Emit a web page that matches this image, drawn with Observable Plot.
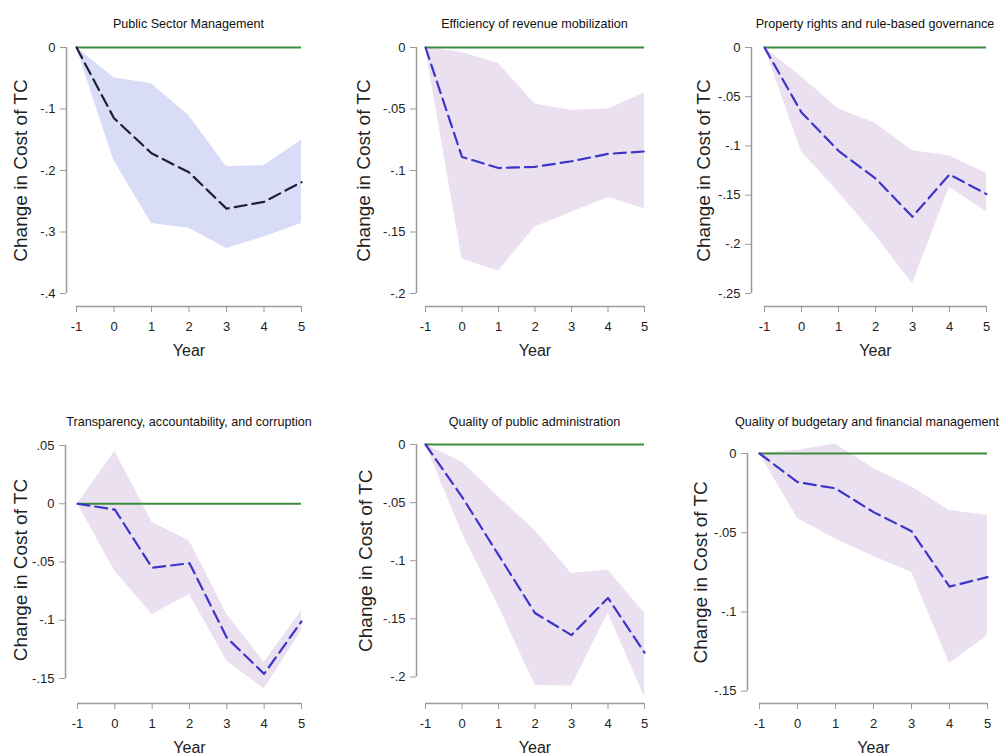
<!DOCTYPE html>
<html>
<head>
<meta charset="utf-8">
<script src="https://cdn.jsdelivr.net/npm/d3@7"></script>
<script src="https://cdn.jsdelivr.net/npm/@observablehq/plot@0.6"></script>
<style>
  body { margin: 0; background: #fff; }
  #wrap { position: relative; width: 1003px; height: 756px; background: #fff; overflow: hidden; font-family: "Liberation Sans", Arial, sans-serif; }
  .ptitle { position: absolute; width: 360px; text-align: center; font-size: 12.6px; line-height: 16px; color: #111; white-space: nowrap; }
  .pan { position: absolute; }
</style>
</head>
<body>
<div id="wrap"></div>
<script>
// ---- data ----
const years = [-1, 0, 1, 2, 3, 4, 5];
const yLabelText = "Change in Cost of TC";
const xLabelText = "Year";

const titles = [
  "Public Sector Management",
  "Efficiency of revenue mobilization",
  "Property rights and rule-based governance",
  "Transparency, accountability, and corruption",
  "Quality of public administration",
  "Quality of budgetary and financial management"
];

const psmMean  = [0, -0.115, -0.172, -0.203, -0.262, -0.251, -0.219];
const psmUpper = [0, -0.049, -0.059, -0.111, -0.194, -0.192, -0.151];
const psmLower = [0, -0.184, -0.286, -0.294, -0.327, -0.308, -0.286];
const psmTicks = [0, -0.1, -0.2, -0.3, -0.4];

const revMean  = [0, -0.089, -0.098, -0.097, -0.0925, -0.0865, -0.0845];
const revUpper = [0, -0.004, -0.013, -0.046, -0.051, -0.050, -0.037];
const revLower = [0, -0.172, -0.182, -0.146, -0.134, -0.122, -0.131];
const revTicks = [0, -0.05, -0.1, -0.15, -0.2];

const propMean  = [0, -0.066, -0.105, -0.133, -0.172, -0.129, -0.149];
const propUpper = [0, -0.030, -0.0625, -0.077, -0.105, -0.110, -0.128];
const propLower = [0, -0.106, -0.147, -0.191, -0.240, -0.142, -0.167];
const propTicks = [0, -0.05, -0.1, -0.15, -0.2, -0.25];

const transMean  = [0, -0.005, -0.055, -0.051, -0.115, -0.146, -0.101];
const transUpper = [0, 0.045, -0.016, -0.032, -0.095, -0.136, -0.092];
const transLower = [0, -0.058, -0.095, -0.078, -0.135, -0.159, -0.109];
const transTicks = [0.05, 0, -0.05, -0.1, -0.15];

const adminMean  = [0, -0.045, -0.095, -0.145, -0.164, -0.132, -0.179];
const adminUpper = [0, -0.015, -0.045, -0.074, -0.111, -0.108, -0.145];
const adminLower = [0, -0.076, -0.139, -0.207, -0.208, -0.145, -0.217];
const adminTicks = [0, -0.05, -0.1, -0.15, -0.2];

const budMean  = [0, -0.018, -0.022, -0.037, -0.049, -0.084, -0.078];
const budUpper = [0, 0.002, 0.006, -0.0095, -0.021, -0.036, -0.039];
const budLower = [0, -0.041, -0.054, -0.065, -0.075, -0.1325, -0.115];
const budTicks = [0, -0.05, -0.1, -0.15];

// ---- styles ----
const blueBand = "#d9dcf7", blueLine = "#1e1e3c";
const purpleBand = "#ebe0f0", purpleLine = "#3b35c9";
const greenLine = "#3c8c3c";
const axisGray = "#9a9a9a";

const panels = [
  {title: titles[0], mean: psmMean, upper: psmUpper, lower: psmLower, ticks: psmTicks, band: blueBand, line: blueLine},
  {title: titles[1], mean: revMean, upper: revUpper, lower: revLower, ticks: revTicks, band: purpleBand, line: purpleLine},
  {title: titles[2], mean: propMean, upper: propUpper, lower: propLower, ticks: propTicks, band: purpleBand, line: purpleLine},
  {title: titles[3], mean: transMean, upper: transUpper, lower: transLower, ticks: transTicks, band: purpleBand, line: purpleLine},
  {title: titles[4], mean: adminMean, upper: adminUpper, lower: adminLower, ticks: adminTicks, band: purpleBand, line: purpleLine},
  {title: titles[5], mean: budMean, upper: budUpper, lower: budLower, ticks: budTicks, band: purpleBand, line: purpleLine}
];

// layout (pixels)
const layouts = [
  {left: 0,   top: 35,  w: 335, h: 335, mL: 66, mR: 34, mT: 12, mB: 64, iL: 10, iB: 13,   labX: 46, labDy: 0, titleY: 24,  titleDx: 0},
  {left: 335, top: 35,  w: 335, h: 335, mL: 81, mR: 26, mT: 12, mB: 64, iL: 9,  iB: 13,   labX: 53, labDy: 0, titleY: 24,  titleDx: 0},
  {left: 668, top: 35,  w: 335, h: 335, mL: 83, mR: 17, mT: 12, mB: 64, iL: 13, iB: 13,   labX: 48, labDy: 0, titleY: 24,  titleDx: 0},
  {left: 0,   top: 435, w: 335, h: 321, mL: 65, mR: 34, mT: 10, mB: 53, iL: 12, iB: 25,   labX: 45, labDy: 8, titleY: 422, titleDx: 0},
  {left: 335, top: 435, w: 335, h: 321, mL: 81, mR: 26, mT: 9,  mB: 53, iL: 9,  iB: 26.5, labX: 51, labDy: 0, titleY: 422, titleDx: 0},
  {left: 668, top: 435, w: 335, h: 321, mL: 79, mR: 16, mT: 18, mB: 53, iL: 12, iB: 12.3, labX: 47, labDy: 0, titleY: 422, titleDx: -6}
];

const fmt = d => d === 0 ? "0" : String(d).replace("0.", ".");

const wrap = document.getElementById("wrap");

panels.forEach((p, k) => {
  const L = layouts[k];
  const data = years.map((yr, i) => ({year: yr, mean: p.mean[i], lo: p.lower[i], hi: p.upper[i]}));
  const ymin = d3.min(p.ticks), ymax = d3.max(p.ticks);
  const x0 = d3.min(years), x1 = d3.max(years);
  const chart = Plot.plot({
    width: L.w, height: L.h,
    marginLeft: L.mL, marginRight: L.mR, marginTop: L.mT, marginBottom: L.mB,
    x: {domain: [x0, x1], insetLeft: L.iL},
    y: {domain: [ymin, ymax], insetBottom: L.iB},
    style: {fontFamily: '"Liberation Sans", Arial, sans-serif', background: "transparent", overflow: "visible"},
    marks: [
      Plot.areaY(data, {x: "year", y1: "lo", y2: "hi", fill: p.band, curve: "linear"}),
      Plot.ruleY([0], {x1: x0, x2: x1, stroke: greenLine, strokeWidth: 2}),
      Plot.line(data, {x: "year", y: "mean", stroke: p.line, strokeWidth: 2.2, strokeDasharray: "12,6"}),
      // axis lines (Stata style, spanning the tick range)
      Plot.ruleX([x0], {y1: ymin, y2: ymax, dx: -L.iL, stroke: axisGray, strokeWidth: 1.5}),
      Plot.ruleY([ymin], {x1: x0, x2: x1, dy: L.iB, stroke: axisGray, strokeWidth: 1.5}),
      Plot.axisY({ticks: p.ticks, tickFormat: fmt, tickSize: 6, tickPadding: 5, fontSize: 13, stroke: axisGray, fill: "#222", label: null}),
      Plot.axisX({ticks: years, tickFormat: d => String(d), tickSize: 6, tickPadding: 9, fontSize: 13, stroke: axisGray, fill: "#222", label: null}),
      Plot.text([yLabelText], {text: d => d, y: () => (ymin + ymax) / 2, frameAnchor: "left", textAnchor: "middle", lineAnchor: "middle", dx: -L.labX, dy: L.labDy, rotate: -90, fontSize: 19, fill: "#222"}),
      Plot.text([xLabelText], {text: d => d, x: () => (x0 + x1) / 2, frameAnchor: "bottom", textAnchor: "middle", dy: 49, fontSize: 16, fill: "#222"})
    ]
  });
  chart.classList.add("pan");
  chart.style.left = L.left + "px";
  chart.style.top = L.top + "px";
  wrap.appendChild(chart);

  const cx = L.left + L.mL + L.iL + (L.w - L.mL - L.iL - L.mR) / 2 + L.titleDx;
  const t = document.createElement("div");
  t.className = "ptitle";
  t.textContent = p.title;
  t.style.left = (cx - 180) + "px";
  t.style.top = (L.titleY - 8) + "px";
  wrap.appendChild(t);
});
</script>
</body>
</html>
